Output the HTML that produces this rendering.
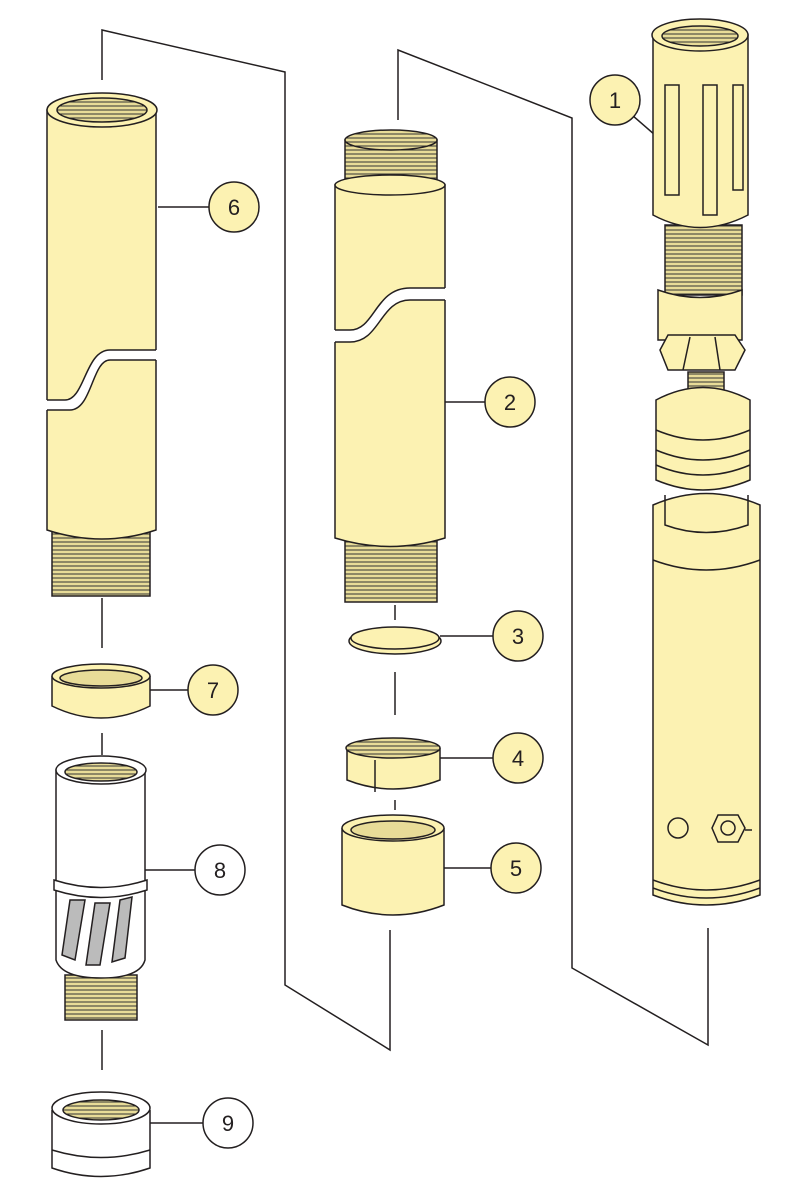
<!DOCTYPE html>
<html><head><meta charset="utf-8"><style>
html,body{margin:0;padding:0;background:#fff;}
svg{display:block;}
text{font-family:"Liberation Sans",sans-serif;font-size:22px;fill:#231f20;text-anchor:middle;}
</style></head><body>
<svg width="800" height="1200" viewBox="0 0 800 1200" xmlns="http://www.w3.org/2000/svg">
<defs>
<pattern id="thr" width="8" height="4" patternUnits="userSpaceOnUse"><rect width="8" height="4" fill="#e8dc98"/><line x1="0" y1="2" x2="8" y2="2" stroke="#333" stroke-width="1"/></pattern>
</defs>
<g fill="none" stroke="#231f20" stroke-width="1.5">
<polyline points="102,80 102,30 285,72 285,985 390,1050 390,930"/>
<line x1="102" y1="598" x2="102" y2="648"/>
<line x1="102" y1="733" x2="102" y2="755"/>
<line x1="102" y1="1030" x2="102" y2="1070"/>
<polyline points="398,120 398,50 572,118 572,968 708,1045 708,928"/>
<line x1="395" y1="605" x2="395" y2="620"/>
<line x1="395" y1="672" x2="395" y2="715"/>
<line x1="395" y1="800" x2="395" y2="810"/>
<line x1="158" y1="207" x2="209" y2="207"/>
<line x1="150" y1="690" x2="188" y2="690"/>
<line x1="145" y1="870" x2="195" y2="870"/>
<line x1="150" y1="1123" x2="203" y2="1123"/>
<line x1="445" y1="402" x2="485" y2="402"/>
<line x1="440" y1="636" x2="493" y2="636"/>
<line x1="440" y1="758" x2="493" y2="758"/>
<line x1="444" y1="868" x2="491" y2="868"/>
<line x1="632" y1="115" x2="655" y2="135"/>
</g>
<g stroke="#231f20" stroke-width="1.5" fill="#fcf2b2">
<!-- Tube 6 -->
<rect x="52" y="530" width="98" height="66" fill="url(#thr)"/>
<path d="M47,110 L47,530 Q102,548 156,530 L156,110 Z"/>
<ellipse cx="102" cy="110" rx="55" ry="17"/>
<ellipse cx="102" cy="110" rx="45" ry="12" fill="url(#thr)"/>
<path d="M45,400 L65,400 C85,400 85,350 110,350 L158,350 L158,360 L110,360 C92,360 92,410 70,410 L45,410 Z" fill="#fff" stroke="none"/>
<path d="M47,400 L65,400 C85,400 85,350 110,350 L156,350" fill="none"/>
<path d="M47,410 L70,410 C92,410 92,360 110,360 L156,360" fill="none"/>
<!-- Ring 7 -->
<path d="M52,676 L52,706 Q101,730 150,706 L150,676"/>
<ellipse cx="101" cy="676" rx="49" ry="12"/>
<ellipse cx="101" cy="678" rx="41" ry="8" fill="#e8dc98"/>
<!-- Part 8 -->
<g fill="#fff">
<rect x="65" y="975" width="72" height="45" fill="url(#thr)"/>
<path d="M56,770 L56,960 Q62,978 101,978 Q140,978 145,960 L145,770 Z"/>
<ellipse cx="101" cy="770" rx="45" ry="14"/>
<ellipse cx="101" cy="772" rx="36" ry="9" fill="url(#thr)"/>
<path d="M54,880 Q101,895 147,880 L147,890 Q101,905 54,890 Z"/>
<path d="M70,900 L85,900 L75,960 L62,955 Z M95,903 L110,903 L100,965 L86,965 Z M120,900 L132,897 L125,958 L112,962 Z" fill="#bbb"/>
<path d="M52,1110 L52,1168 Q101,1185 150,1168 L150,1110"/>
<ellipse cx="101" cy="1108" rx="49" ry="16"/>
<ellipse cx="101" cy="1110" rx="38" ry="10" fill="url(#thr)"/>
<path d="M52,1150 Q101,1165 150,1150" fill="none"/>
</g>
<!-- Tube 2 -->
<rect x="345" y="140" width="92" height="45" fill="url(#thr)"/>
<ellipse cx="391" cy="140" rx="46" ry="10" fill="url(#thr)"/>
<rect x="345" y="540" width="92" height="62" fill="url(#thr)"/>
<path d="M335,185 L335,538 Q390,555 445,538 L445,185 Z"/>
<ellipse cx="390" cy="185" rx="55" ry="10"/>
<path d="M333,330 L350,330 C375,330 375,288 410,288 L447,288 L447,300 L410,300 C380,300 380,342 350,342 L333,342 Z" fill="#fff" stroke="none"/>
<path d="M335,330 L350,330 C375,330 375,288 410,288 L445,288" fill="none"/>
<path d="M335,342 L350,342 C380,342 380,300 410,300 L445,300" fill="none"/>
<!-- Disc 3 -->
<ellipse cx="395" cy="641" rx="46" ry="13"/>
<ellipse cx="395" cy="638" rx="44" ry="11"/>
<!-- Ring 4 -->
<path d="M347,748 L347,780 Q393,798 440,780 L440,748"/>
<ellipse cx="393" cy="748" rx="47" ry="10" fill="url(#thr)"/>
<line x1="375" y1="760" x2="375" y2="792"/>
<!-- Ring 5 -->
<path d="M342,828 L342,905 Q393,925 444,905 L444,828"/>
<ellipse cx="393" cy="828" rx="51" ry="13"/>
<ellipse cx="393" cy="830" rx="42" ry="9" fill="#e8dc98"/>
<!-- Part 1 -->
<rect x="665" y="225" width="77" height="70" fill="url(#thr)"/>
<path d="M653,35 L653,215 Q700,240 748,215 L748,35 Z"/>
<ellipse cx="700" cy="35" rx="48" ry="16"/>
<ellipse cx="700" cy="36" rx="38" ry="10" fill="url(#thr)"/>
<rect x="665" y="85" width="14" height="110" fill="none"/>
<rect x="703" y="85" width="14" height="130" fill="none"/>
<rect x="733" y="85" width="10" height="105" fill="none"/>
<path d="M658,290 L658,340 L742,340 L742,290 Q700,305 658,290 Z"/>
<path d="M660,350 L668,335 L735,335 L745,350 L735,370 L668,370 Z"/>
<line x1="690" y1="337" x2="683" y2="370"/><line x1="715" y1="337" x2="720" y2="370"/>
<rect x="688" y="372" width="36" height="35" fill="url(#thr)"/>
<path d="M656,400 L656,480 Q703,500 750,480 L750,400 Q703,375 656,400 Z"/>
<path d="M656,430 Q703,450 750,430 M656,450 Q703,470 750,450 M656,465 Q703,485 750,465" fill="none"/>
<path d="M653,505 L653,895 Q706,915 760,895 L760,505 Q706,482 653,505 Z"/>
<path d="M665,495 L665,525 Q706,540 748,525 L748,495" fill="none"/>
<path d="M653,560 Q706,580 760,560" fill="none"/>
<path d="M653,880 Q706,900 760,880 M653,888 Q706,908 760,888" fill="none"/>
<ellipse cx="678" cy="828" rx="10" ry="10"/>
<path d="M718,815 L738,815 L745,828 L738,842 L718,842 L712,828 Z"/>
<circle cx="728" cy="828" r="7"/>
<line x1="745" y1="830" x2="752" y2="830"/>
<!-- callouts -->
<circle cx="234" cy="207" r="25"/>
<circle cx="213" cy="690" r="25"/>
<circle cx="220" cy="870" r="25" fill="#fff"/>
<circle cx="228" cy="1123" r="25" fill="#fff"/>
<circle cx="510" cy="402" r="25"/>
<circle cx="518" cy="636" r="25"/>
<circle cx="518" cy="758" r="25"/>
<circle cx="516" cy="868" r="25"/>
<circle cx="615" cy="100" r="25"/>
</g>
<g stroke="none">
<text x="234" y="215">6</text><text x="213" y="698">7</text><text x="220" y="878">8</text><text x="228" y="1131">9</text>
<text x="510" y="410">2</text><text x="518" y="644">3</text><text x="518" y="766">4</text><text x="516" y="876">5</text><text x="615" y="108">1</text>
</g>
</svg>
</body></html>
